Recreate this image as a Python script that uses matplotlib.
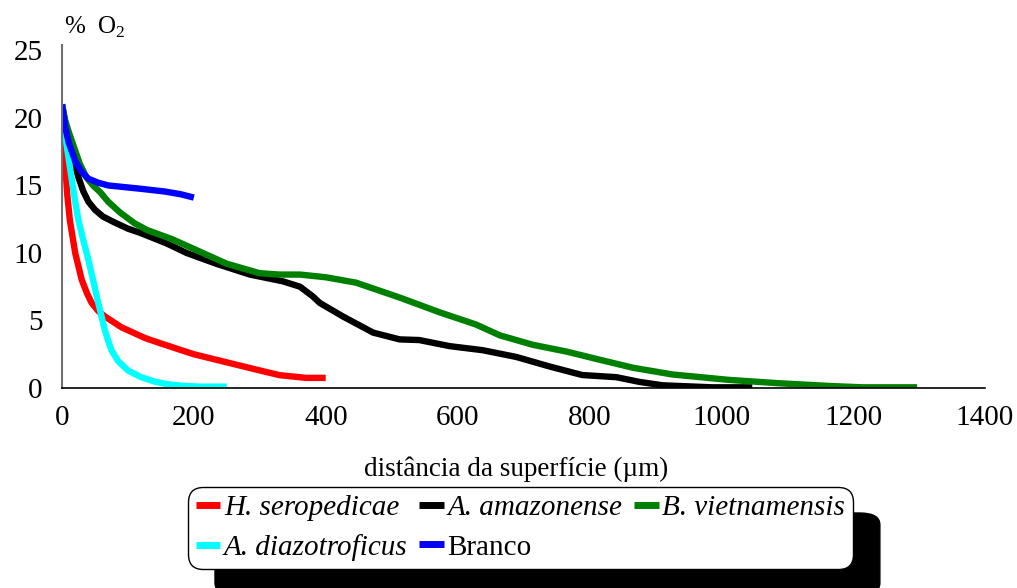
import matplotlib
matplotlib.use("Agg")
import matplotlib.pyplot as plt
from matplotlib.patches import FancyBboxPatch

plt.rcParams["font.family"] = ["Liberation Serif", "DejaVu Serif"]
plt.rcParams["mathtext.fontset"] = "custom"
plt.rcParams["mathtext.rm"] = "Liberation Serif"

# --- O2 profiles: distance from surface (um) vs % O2 ---
h_sero_x = [0, 1.5, 4.5, 8, 12, 20, 30, 38, 45, 55, 65, 90, 126, 150, 181, 200, 250, 300, 330, 370, 400]
h_sero_y = [21, 19, 16.8, 14.3, 12.4, 10.0, 8.0, 7.0, 6.3, 5.7, 5.3, 4.5, 3.7, 3.3, 2.8, 2.5, 1.9, 1.3, 0.95, 0.75, 0.75]

a_amaz_x = [0, 5, 12, 18, 25, 32, 40, 50, 62, 78, 100, 118, 159, 189, 234, 285, 335, 361, 380, 391,
            426, 472, 512, 542, 588, 638, 689, 739, 789, 841, 876, 911, 986, 1047]
a_amaz_y = [21, 19.6, 18, 16.7, 15.6, 14.6, 13.8, 13.2, 12.7, 12.3, 11.8, 11.5, 10.7, 10.0, 9.2, 8.4, 7.9,
            7.5, 6.8, 6.3, 5.3, 4.1, 3.6, 3.55, 3.1, 2.8, 2.3, 1.6, 0.96, 0.8, 0.45, 0.2, 0.05, 0.05]

b_viet_x = [0, 5, 10, 17, 27, 37, 47, 58, 70, 88, 110, 129, 168, 209, 250, 300, 330, 361, 400, 446, 512,
            573, 628, 664, 714, 765, 815, 866, 926, 1012, 1088, 1164, 1214, 1297]
b_viet_y = [21, 19.8, 19, 18, 16.6, 15.6, 15.0, 14.5, 13.8, 13.0, 12.2, 11.7, 11.0, 10.1, 9.2, 8.5, 8.4,
            8.4, 8.2, 7.8, 6.7, 5.6, 4.7, 3.9, 3.2, 2.7, 2.1, 1.5, 1.0, 0.6, 0.35, 0.15, 0.05, 0.05]

a_diaz_x = [0, 3, 7, 14.6, 20, 25, 32, 40, 48, 55, 60, 65, 70, 75, 85, 100, 120, 141, 160, 186, 210, 250]
a_diaz_y = [21, 19.5, 18, 15.5, 13.8, 12.4, 11.0, 9.5, 7.8, 6.3, 5.3, 4.3, 3.5, 2.8, 2.0, 1.3, 0.8, 0.47,
            0.28, 0.15, 0.1, 0.1]

branco_x = [0, 5, 10, 20, 30, 40, 55, 70, 90, 120, 156, 180, 200]
branco_y = [21, 19.3, 18.2, 16.8, 16.0, 15.5, 15.2, 15.0, 14.9, 14.75, 14.55, 14.35, 14.1]

series = [
    ("H. seropedicae", h_sero_x, h_sero_y, "#ff0000", True),
    ("A. amazonense", a_amaz_x, a_amaz_y, "#000000", True),
    ("B. vietnamensis", b_viet_x, b_viet_y, "#008000", True),
    ("A. diazotroficus", a_diaz_x, a_diaz_y, "#00ffff", True),
    ("Branco", branco_x, branco_y, "#0000ff", False),
]

fig = plt.figure(figsize=(10.17, 5.88), dpi=100)
ax = fig.add_axes([62 / 1017, 1 - 388 / 588, 923 / 1017, 343 / 588])

lines = {}
for name, xs, ys, col, _ in series:
    lines[name], = ax.plot(xs, ys, color=col, lw=4.6, solid_capstyle="butt",
                           solid_joinstyle="round")

ax.set_xlim(0, 1400)
ax.set_ylim(0, 25.4)
ax.set_xticks(range(0, 1401, 200))
ax.set_yticks(range(0, 26, 5))
ax.tick_params(length=0, labelsize=21)
ax.tick_params(axis="y", pad=14)
ax.tick_params(axis="x", pad=12)
for s in ("top", "right"):
    ax.spines[s].set_visible(False)
ax.spines["left"].set_color("#707070")
ax.spines["left"].set_linewidth(1.5)
ax.spines["bottom"].set_color("black")
ax.spines["bottom"].set_linewidth(1.2)

ax.set_xlabel("distância da superfície (µm)", fontsize=19.5)
ax.xaxis.set_label_coords(0.492, -0.2)
fig.text(64 / 1017, 1 - 27 / 588, "%  O$_2$", fontsize=18, va="center", ha="left")

# legend laid out row by row (matplotlib fills columns first)
order = ["H. seropedicae", "A. diazotroficus", "A. amazonense", "Branco", "B. vietnamensis"]
leg = fig.legend([lines[n] for n in order], order, ncol=3, loc="upper left",
                 bbox_to_anchor=(188 / 1017, 1 - 487 / 588), borderaxespad=0,
                 fontsize=21, handlelength=0.85, handletextpad=0.12, columnspacing=0.4,
                 labelspacing=0.45, borderpad=0.26, frameon=True, fancybox=True)
frame = leg.get_frame()
frame.set_edgecolor("black")
frame.set_linewidth(1.0)
frame.set_alpha(1)
frame.set_boxstyle("round,pad=0,rounding_size=0.5")
italic = {n for n, *_, it in series if it}
for t in leg.get_texts():
    if t.get_text() in italic:
        t.set_fontstyle("italic")
for h in leg.legend_handles:
    h.set_linewidth(5)

# solid black drop shadow under the legend box
fig.canvas.draw()
bb = leg.get_window_extent()
W, H = fig.bbox.width, fig.bbox.height
shadow = FancyBboxPatch(((bb.x0 + 27) / W, (bb.y0 - 26) / H), bb.width / W, bb.height / H,
                        boxstyle="round,pad=0,rounding_size=0.02", transform=fig.transFigure,
                        facecolor="black", edgecolor="black", zorder=-1)
fig.patches.append(shadow)
leg.set_zorder(5)

fig.savefig("out.png", dpi=100)
